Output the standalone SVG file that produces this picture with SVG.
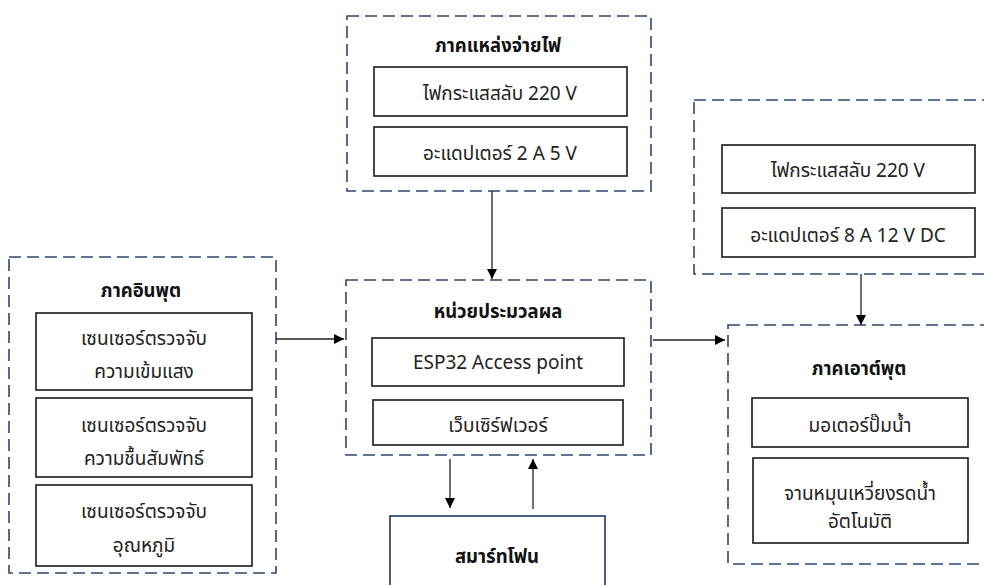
<svg xmlns="http://www.w3.org/2000/svg" width="984" height="585" viewBox="0 0 984 585">
  <style>
    .group { fill: none; stroke: #2f4670; stroke-width: 1.6; stroke-dasharray: 12 6; }
    .item { fill: #ffffff; stroke: #1a1a1a; stroke-width: 1.6; }
    .phone { fill: #ffffff; stroke: #1f3864; stroke-width: 1.6; }
    .t { font-family: "Noto Sans", "Noto Sans Thai", "DejaVu Sans", sans-serif; font-size: 19px; fill: #222222; text-anchor: middle; }
    .h { font-weight: bold; fill: #111111; font-size: 18.5px; }
    .wire { fill: none; stroke: #222222; stroke-width: 1.3; }
  </style>
  <defs>
    <marker id="arrow" viewBox="0 0 10 10" refX="10" refY="5" markerWidth="10" markerHeight="10" markerUnits="userSpaceOnUse" orient="auto">
      <path d="M0,0 L10,5 L0,10 Z" fill="#000000"/>
    </marker>
  </defs>
  <rect width="984" height="585" fill="#ffffff"/>

  <g id="power-supply">
    <rect class="group" x="347" y="16" width="304" height="175"/>
    <text class="t h" x="498" y="52">ภาคแหล่งจ่ายไฟ</text>
    <rect class="item" x="374" y="67" width="253" height="49"/>
    <text class="t" x="500" y="100">ไฟกระแสสลับ 220 V</text>
    <rect class="item" x="374" y="127" width="253" height="49"/>
    <text class="t" x="500" y="160">อะแดปเตอร์ 2 A 5 V</text>
  </g>

  <g id="output-power">
    <rect class="group" x="694" y="100" width="310" height="174"/>
    <rect class="item" x="722" y="145" width="253" height="48"/>
    <text class="t" x="848" y="177">ไฟกระแสสลับ 220 V</text>
    <rect class="item" x="722" y="208" width="253" height="49"/>
    <text class="t" x="848" y="242">อะแดปเตอร์ 8 A 12 V DC</text>
  </g>

  <g id="input">
    <rect class="group" x="9" y="257" width="267" height="316"/>
    <text class="t h" x="141" y="297">ภาคอินพุต</text>
    <rect class="item" x="36" y="313" width="216" height="77"/>
    <text class="t" x="144" y="345">เซนเซอร์ตรวจจับ</text>
    <text class="t" x="144" y="378">ความเข้มแสง</text>
    <rect class="item" x="36" y="398" width="216" height="79"/>
    <text class="t" x="144" y="432">เซนเซอร์ตรวจจับ</text>
    <text class="t" x="144" y="465">ความชื้นสัมพัทธ์</text>
    <rect class="item" x="36" y="485" width="216" height="81"/>
    <text class="t" x="144" y="518">เซนเซอร์ตรวจจับ</text>
    <text class="t" x="144" y="552">อุณหภูมิ</text>
  </g>

  <g id="processing">
    <rect class="group" x="346" y="280" width="305" height="175"/>
    <text class="t h" x="498" y="318">หน่วยประมวลผล</text>
    <rect class="item" x="372" y="338" width="252" height="48"/>
    <text class="t" x="498" y="369">ESP32 Access point</text>
    <rect class="item" x="373" y="400" width="250" height="45"/>
    <text class="t" x="498" y="432">เว็บเซิร์ฟเวอร์</text>
  </g>

  <g id="output">
    <rect class="group" x="728" y="325" width="276" height="239"/>
    <text class="t h" x="859" y="375">ภาคเอาต์พุต</text>
    <rect class="item" x="752" y="398" width="216" height="49"/>
    <text class="t" x="860" y="432">มอเตอร์ปั๊มน้ำ</text>
    <rect class="item" x="753" y="458" width="215" height="85"/>
    <text class="t" x="860" y="500">จานหมุนเหวี่ยงรดน้ำ</text>
    <text class="t" x="860" y="528">อัตโนมัติ</text>
  </g>

  <g id="smartphone">
    <rect class="phone" x="390" y="516" width="215" height="80"/>
    <text class="t h" x="497" y="563">สมาร์ทโฟน</text>
  </g>

  <g id="connectors">
    <line class="wire" x1="492" y1="191" x2="492" y2="279" marker-end="url(#arrow)"/>
    <line class="wire" x1="276" y1="339" x2="344" y2="339" marker-end="url(#arrow)"/>
    <line class="wire" x1="653" y1="340" x2="725" y2="340" marker-end="url(#arrow)"/>
    <line class="wire" x1="861" y1="274" x2="861" y2="325" marker-end="url(#arrow)"/>
    <line class="wire" x1="450" y1="459" x2="450" y2="508" marker-end="url(#arrow)"/>
    <line class="wire" x1="533" y1="509" x2="533" y2="459" marker-end="url(#arrow)"/>
  </g>
</svg>
